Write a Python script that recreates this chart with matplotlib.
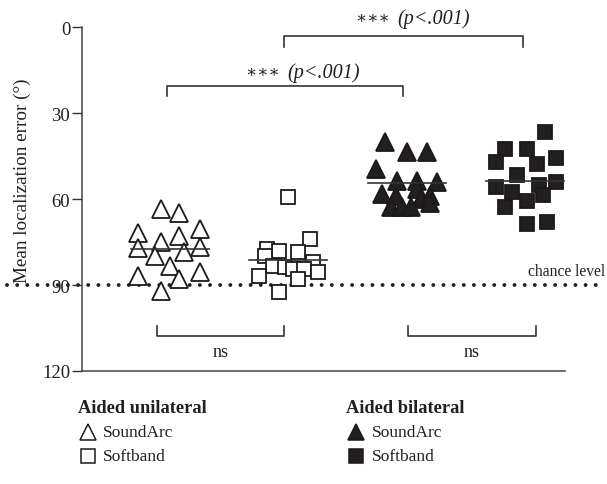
import matplotlib
matplotlib.use("Agg")
import matplotlib.pyplot as plt
import matplotlib.transforms as mtransforms
from matplotlib.lines import Line2D
import numpy as np

plt.rcParams['font.family'] = ['Liberation Serif', 'DejaVu Serif']

# Group positions on the x axis
group_pos = [1, 2, 3, 4]
group_names = ["Aided unilateral SoundArc", "Aided unilateral Softband",
               "Aided bilateral SoundArc", "Aided bilateral Softband"]

# Per-subject mean localization error (degrees) and horizontal jitter
uni_soundarc = [63.5, 65.0, 70.5, 72.0, 75.0, 73.0, 77.0, 76.7, 78.5, 80.0,
                83.4, 85.5, 87.0, 88.0, 92.0]
uni_soundarc_jit = [-0.08, 0.08, 0.25, -0.27, -0.08, 0.08, -0.27, 0.25, 0.12, -0.13,
                    0.0, 0.25, -0.27, 0.08, -0.08]

uni_softband = [59.3, 74.0, 77.4, 78.0, 80.0, 78.5, 82.0, 83.4, 83.7, 84.4,
                84.4, 85.5, 86.8, 88.0, 92.4]
uni_softband_jit = [0.0, 0.18, -0.18, -0.08, -0.2, 0.08, 0.21, -0.13, -0.03, 0.04,
                    0.13, 0.25, -0.25, 0.08, -0.08]

bi_soundarc = [40.0, 43.7, 43.7, 49.5, 53.7, 53.7, 54.0, 56.5, 58.2, 58.9,
               60.0, 58.9, 62.8, 62.8, 62.8, 61.5]
bi_soundarc_jit = [-0.18, 0.0, 0.17, -0.26, -0.08, 0.09, 0.26, 0.09, -0.21, -0.09,
                   0.12, 0.2, -0.13, -0.04, 0.04, 0.2]

bi_softband = [36.7, 42.5, 42.5, 45.6, 47.0, 47.8, 51.6, 55.8, 57.5, 55.0,
               60.7, 54.0, 62.8, 68.7, 68.0, 58.5]
bi_softband_jit = [0.17, -0.17, 0.02, 0.26, -0.24, 0.1, -0.07, -0.24, -0.11, 0.12,
                   0.02, 0.26, -0.17, 0.02, 0.19, 0.15]

group_means = [77.4, 81.3, 54.4, 53.7]
chance = 90

yticks = [0, 30, 60, 90, 120]

fig = plt.figure(figsize=(6.07, 4.85), dpi=100)
ax = fig.add_axes([0.135, 0.233, 0.796, 0.709])

ink = '#231f20'
edge = '#1a1a1a'
series = [
    (uni_soundarc, uni_soundarc_jit, '^', 'white', 12.5),
    (uni_softband, uni_softband_jit, 's', 'white', 10.5),
    (bi_soundarc, bi_soundarc_jit, '^', ink, 12.5),
    (bi_softband, bi_softband_jit, 's', ink, 10.5),
]
for pos, (vals, jit, mk, fc, ms) in zip(group_pos, series):
    xs = pos + np.asarray(jit)
    ax.plot(xs, vals, linestyle='none', marker=mk, markersize=ms,
            markerfacecolor=fc, markeredgecolor=edge, markeredgewidth=1.3,
            zorder=3)

# Group mean lines
for pos, m in zip(group_pos, group_means):
    ax.plot([pos - 0.33, pos + 0.33], [m, m], color='#333333', lw=1.2, zorder=4)

ax.set_xlim(0.256, 4.34)
ax.set_ylim(120, 0)
ax.set_yticks(yticks)
ax.set_yticklabels([str(t) for t in yticks], fontsize=13.5)
ax.tick_params(axis='y', direction='out', length=7, width=1, color='#333333',
               pad=1.5, labelcolor=ink)
ax.tick_params(axis='x', bottom=False, labelbottom=False)
for side in ['top', 'right']:
    ax.spines[side].set_visible(False)
for side in ['left', 'bottom']:
    ax.spines[side].set_color('#444444')
    ax.spines[side].set_linewidth(1.1)
ax.set_ylabel('Mean localization error (°)', fontsize=13.8, color=ink)
ax.yaxis.set_label_coords(-0.106, 0.555)

# Chance level dotted line across the figure
trans = mtransforms.blended_transform_factory(ax.transAxes, ax.transData)
ax.plot([-0.155, 1.08], [chance, chance], transform=trans, clip_on=False,
        color=ink, lw=2.8, linestyle=(0, (0.01, 2.6)),
        dash_capstyle='round', zorder=2)
ax.text(1.082, chance - 2.2, 'chance level', transform=trans, ha='right',
        va='bottom', fontsize=11.2, color=ink)

bk = dict(color='#333333', lw=1.2, clip_on=False)

# Significance brackets (top)
ax.plot([1.964, 1.964, 3.98, 3.98], [7, 3, 3, 7], **bk)
ax.text(2.90, -3.3, '∗∗∗ ', ha='right', va='center', fontsize=12,
        family=['DejaVu Serif'], color=ink)
ax.text(2.92, -3.3, '(p<.001)', ha='left', va='center', fontsize=14.5,
        style='italic', color=ink)

ax.plot([0.975, 0.975, 2.97, 2.97], [24.2, 20.6, 20.6, 24.2], **bk)
ax.text(1.97, 15.6, '∗∗∗ ', ha='right', va='center', fontsize=12,
        family=['DejaVu Serif'], color=ink)
ax.text(1.99, 15.6, '(p<.001)', ha='left', va='center', fontsize=14.5,
        style='italic', color=ink)

# Non-significant brackets (bottom)
ax.plot([0.89, 0.89, 1.96, 1.96], [104.2, 107.8, 107.8, 104.2], **bk)
ax.text(1.425, 113.2, 'ns', ha='center', va='center', fontsize=13,
        color=ink)
ax.plot([3.01, 3.01, 4.09, 4.09], [104.2, 107.8, 107.8, 104.2], **bk)
ax.text(3.55, 113.2, 'ns', ha='center', va='center', fontsize=13,
        color=ink)

# Legend drawn in figure coordinates
W, H = 607.0, 485.0
def fx(px):
    return px / W
def fy(py):
    return 1 - py / H

fig.text(fx(78), fy(409), 'Aided unilateral', fontsize=13.2, weight='bold',
         ha='left', va='center', color=ink)
fig.text(fx(346), fy(409), 'Aided bilateral', fontsize=13.2, weight='bold',
         ha='left', va='center', color=ink)

legend_rows = [
    (fx(88), fy(433), '^', 'white', 11, 'SoundArc', fx(103)),
    (fx(88), fy(457), 's', 'white', 10.5, 'Softband', fx(103)),
    (fx(356), fy(433), '^', ink, 11, 'SoundArc', fx(372)),
    (fx(356), fy(457), 's', ink, 10.5, 'Softband', fx(372)),
]
for x, y, mk, fc, ms, label, tx in legend_rows:
    fig.add_artist(Line2D([x], [y], transform=fig.transFigure, marker=mk,
                          markersize=ms, markerfacecolor=fc,
                          markeredgecolor=edge, markeredgewidth=1.1,
                          linestyle='none'))
    fig.text(tx, y, label, fontsize=12.5, ha='left', va='center', color=ink)

fig.savefig('out.png', dpi=100)
